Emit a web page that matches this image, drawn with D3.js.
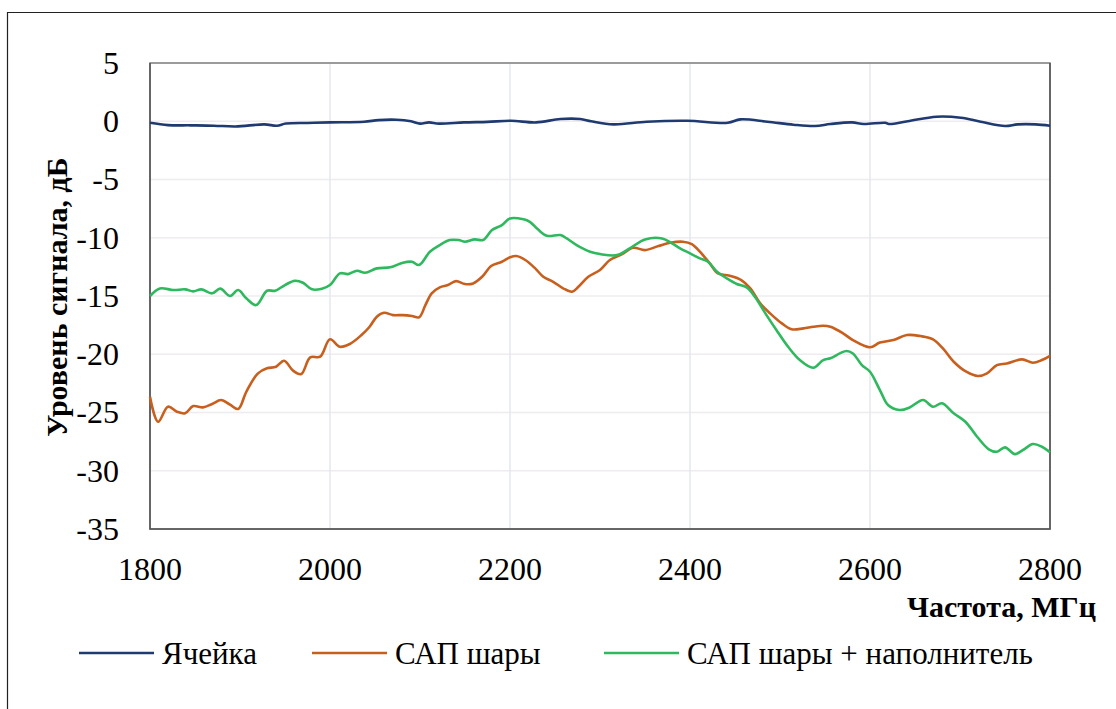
<!DOCTYPE html>
<html>
<head>
<meta charset="utf-8">
<script src="https://cdn.jsdelivr.net/npm/d3@7"></script>
</head>
<body style="margin:0;font-family:'Liberation Serif'">
<script>
// частоты, МГц и уровни, дБ
const cellF = [1800,1820,1845,1871,1895,1927,1941,1951,1975,2000,2038,2054,2074,2090,2100,2110,2121,2149,2175,2201,2229,2256,2278,2290,2315,2352,2397,2442,2456,2486,2515,2539,2556,2580,2593,2617,2621,2642,2674,2701,2723,2750,2764,2784,2800];
const cellV = [-0.13,-0.33,-0.35,-0.38,-0.45,-0.27,-0.38,-0.2,-0.15,-0.1,-0.04,0.1,0.13,0,-0.2,-0.1,-0.2,-0.1,-0.05,0.04,-0.1,0.19,0.19,0,-0.27,-0.04,0.04,-0.13,0.16,-0.04,-0.3,-0.41,-0.24,-0.1,-0.24,-0.13,-0.24,0,0.39,0.3,-0.04,-0.41,-0.27,-0.27,-0.38];

const sapF = [1800,1809,1820,1830,1839,1848,1859,1869,1879,1889,1898,1907,1920,1930,1940,1949,1959,1968,1978,1989,2000,2011,2022,2035,2044,2052,2060,2070,2081,2091,2099,2106,2113,2122,2131,2140,2150,2159,2169,2179,2191,2200,2207,2217,2228,2237,2248,2259,2269,2276,2287,2300,2311,2324,2337,2350,2365,2378,2392,2402,2411,2422,2431,2444,2457,2467,2478,2489,2502,2513,2526,2537,2548,2556,2570,2581,2600,2611,2626,2641,2656,2670,2681,2693,2707,2720,2730,2741,2752,2769,2781,2791,2800];
const sapV = [-23.65,-25.8,-24.5,-24.93,-25.07,-24.45,-24.56,-24.27,-23.93,-24.33,-24.7,-23.22,-21.64,-21.21,-21.07,-20.56,-21.41,-21.7,-20.27,-20.21,-18.72,-19.36,-19.12,-18.35,-17.64,-16.78,-16.44,-16.64,-16.64,-16.72,-16.83,-15.78,-14.77,-14.26,-14.06,-13.72,-13.97,-13.92,-13.35,-12.43,-12.06,-11.68,-11.57,-11.91,-12.63,-13.35,-13.78,-14.34,-14.63,-14.21,-13.35,-12.77,-11.91,-11.43,-10.86,-11.06,-10.71,-10.43,-10.34,-10.54,-11.2,-12.2,-13.06,-13.26,-13.63,-14.34,-15.63,-16.49,-17.35,-17.86,-17.78,-17.64,-17.55,-17.64,-18.2,-18.78,-19.4,-19.0,-18.78,-18.35,-18.44,-18.72,-19.5,-20.64,-21.5,-21.87,-21.64,-20.93,-20.79,-20.44,-20.73,-20.5,-20.13];

const fillF = [1800,1811,1826,1839,1848,1857,1869,1878,1889,1898,1907,1918,1930,1939,1950,1961,1970,1980,1991,2000,2011,2020,2030,2039,2052,2067,2081,2091,2099,2111,2122,2133,2143,2150,2161,2170,2180,2191,2200,2215,2222,2231,2241,2256,2263,2274,2289,2300,2319,2333,2350,2369,2380,2389,2400,2411,2420,2430,2441,2452,2463,2472,2485,2496,2509,2522,2537,2548,2556,2567,2574,2581,2591,2600,2611,2620,2633,2644,2659,2670,2680,2693,2706,2719,2732,2741,2750,2761,2770,2781,2791,2800];
const fillV = [-15.0,-14.35,-14.49,-14.43,-14.6,-14.43,-14.77,-14.37,-15.0,-14.49,-15.2,-15.78,-14.55,-14.55,-14.06,-13.69,-13.86,-14.43,-14.37,-14.06,-13.06,-13.12,-12.83,-13.0,-12.63,-12.54,-12.14,-12.06,-12.34,-11.2,-10.63,-10.2,-10.2,-10.34,-10.14,-10.2,-9.34,-8.91,-8.34,-8.42,-8.63,-9.28,-9.83,-9.77,-10.06,-10.63,-11.2,-11.4,-11.49,-10.91,-10.14,-10.06,-10.48,-10.91,-11.34,-11.77,-12.06,-12.92,-13.49,-13.97,-14.26,-15.06,-16.64,-17.92,-19.36,-20.5,-21.16,-20.5,-20.35,-19.9,-19.72,-19.93,-20.93,-21.5,-23.07,-24.36,-24.79,-24.57,-23.93,-24.5,-24.21,-25.07,-25.79,-27.08,-28.16,-28.37,-27.99,-28.57,-28.22,-27.71,-27.94,-28.42];

const seriesNames = ["Ячейка", "САП шары", "САП шары + наполнитель"];
const xTicks = [1800, 2000, 2200, 2400, 2600, 2800];
const yTicks = [5, 0, -5, -10, -15, -20, -25, -30, -35];

const width = 1116, height = 709;
const m = {left: 150, right: 1050, top: 63, bottom: 529};
const fontName = "'Liberation Serif'";

const svg = d3.select("body").append("svg")
  .attr("width", width).attr("height", height)
  .style("font-family", fontName);

svg.append("rect").attr("width", width).attr("height", height).attr("fill", "#fff");
// рамка рисунка
svg.append("path").attr("d", `M7.5,${height} V12.5 H${width}`)
  .attr("fill", "none").attr("stroke", "#222").attr("stroke-width", 1.2);

const x = d3.scaleLinear().domain([1800, 2800]).range([m.left, m.right]);
const y = d3.scaleLinear().domain([-35, 5]).range([m.bottom, m.top]);

// сетка
svg.append("g").selectAll("line").data(yTicks).join("line")
  .attr("x1", m.left).attr("x2", m.right)
  .attr("y1", d => y(d)).attr("y2", d => y(d))
  .attr("stroke", "#efecef").attr("stroke-width", 1.5);
svg.append("g").selectAll("line").data(xTicks).join("line")
  .attr("x1", d => x(d)).attr("x2", d => x(d))
  .attr("y1", m.top).attr("y2", m.bottom)
  .attr("stroke", "#e3e8ee").attr("stroke-width", 1.5);

svg.append("rect")
  .attr("x", m.left).attr("y", m.top)
  .attr("width", m.right - m.left).attr("height", m.bottom - m.top)
  .attr("fill", "none").attr("stroke", "#7f7f7f").attr("stroke-width", 1.5);
svg.append("path").attr("d", `M${m.left},${m.top} V${m.bottom} H${m.right} V${m.top}`)
  .attr("fill", "none").attr("stroke", "#555").attr("stroke-width", 1.5);

// подписи делений по шкалам
svg.selectAll(".ylab").data(yTicks).join("text")
  .attr("class", "ylab")
  .attr("x", m.left - 31).attr("y", d => y(d)).attr("dy", "0.34em")
  .attr("text-anchor", "end")
  .style("font-family", fontName).style("font-size", "32px")
  .text(d => d);
svg.selectAll(".xlab").data(xTicks).join("text")
  .attr("class", "xlab")
  .attr("x", d => x(d)).attr("y", m.bottom + 51)
  .attr("text-anchor", "middle")
  .style("font-family", fontName).style("font-size", "32px")
  .text(d => d);

svg.append("text")
  .attr("transform", `translate(67,297) rotate(-90)`)
  .attr("text-anchor", "middle")
  .style("font-family", fontName).style("font-size", "30px").style("font-weight", "bold")
  .text("Уровень сигнала, дБ");
svg.append("text")
  .attr("x", 1096).attr("y", 617)
  .attr("text-anchor", "end")
  .style("font-family", fontName).style("font-size", "30px").style("font-weight", "bold")
  .text("Частота, МГц");

// кривые
const colors = ["#1f3a70", "#c85f1d", "#2fb85e"];
const series = [
  d3.zip(cellF, cellV),
  d3.zip(sapF, sapV),
  d3.zip(fillF, fillV)
];
const line = d3.line()
  .x(d => x(d[0])).y(d => y(d[1]))
  .curve(d3.curveCatmullRom.alpha(0.5));

svg.append("g").selectAll("path").data(series).join("path")
  .attr("d", line)
  .attr("fill", "none")
  .attr("stroke", (d, i) => colors[i])
  .attr("stroke-width", 2.6)
  .attr("stroke-linejoin", "round");

// легенда
const legendX = [79, 312, 604];
svg.selectAll(".legline").data(seriesNames).join("line")
  .attr("class", "legline")
  .attr("x1", (d, i) => legendX[i]).attr("x2", (d, i) => legendX[i] + 75)
  .attr("y1", 653).attr("y2", 653)
  .attr("stroke", (d, i) => colors[i]).attr("stroke-width", 2.6);
svg.selectAll(".legtext").data(seriesNames).join("text")
  .attr("class", "legtext")
  .attr("x", (d, i) => legendX[i] + 83).attr("y", 664)
  .style("font-family", fontName).style("font-size", "31px")
  .text(d => d);
</script>
</body>
</html>
